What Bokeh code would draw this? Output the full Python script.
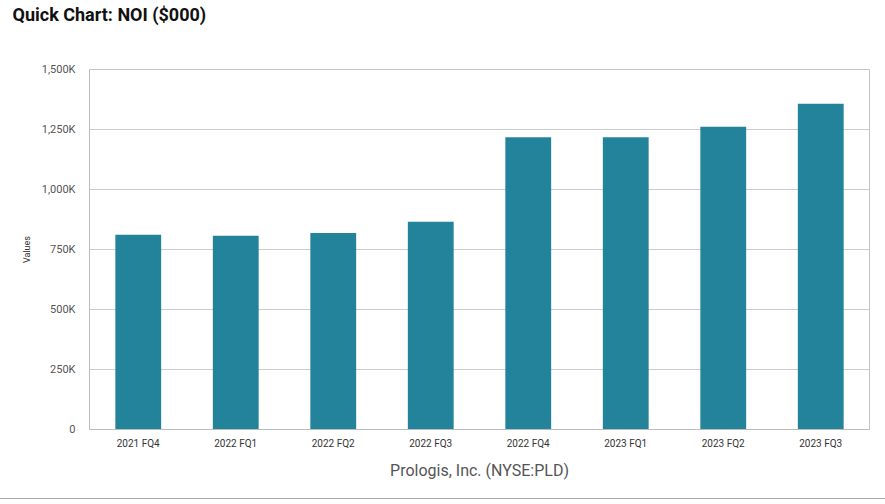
from bokeh.plotting import figure
from bokeh.models import FixedTicker, Title
from bokeh.embed import file_html
from bokeh.resources import INLINE

categories = ["2021 FQ4", "2022 FQ1", "2022 FQ2", "2022 FQ3",
              "2022 FQ4", "2023 FQ1", "2023 FQ2", "2023 FQ3"]
noi = [811000, 807000, 819000, 866000, 1218000, 1218000, 1261000, 1357000]
y_ticks = [0, 250000, 500000, 750000, 1000000, 1250000, 1500000]
y_tick_labels = ["0", "250K", "500K", "750K", "1,000K", "1,250K", "1,500K"]

p = figure(x_range=categories, y_range=(0, 1500000), width=885, height=499,
           output_backend="svg", toolbar_location=None,
           min_border_left=89, min_border_right=16, min_border_top=20, min_border_bottom=70)

p.vbar(x=categories, top=noi, width=0.47, color="#23839B", line_color=None)

p.title = None
spacer = Title(text=" ", text_font_size="37px", standoff=0)
main_title = Title(text="Quick Chart: NOI ($000)", text_font="Roboto", text_font_size="18px",
                   text_font_style="bold", text_color="#111111", offset=-77, standoff=3)
p.add_layout(spacer, "above")
p.add_layout(main_title, "above")

p.add_layout(Title(text="Prologis, Inc. (NYSE:PLD)", align="center", offset=-31,
                   text_font="Roboto", text_font_size="16px", text_font_style="normal",
                   text_color="#555555", standoff=15), "below")

p.x_range.range_padding = 0
p.outline_line_color = "#c4c4c4"
p.xgrid.grid_line_color = None
p.ygrid.grid_line_color = "#cccccc"

p.yaxis.ticker = FixedTicker(ticks=y_ticks)
p.yaxis.major_label_overrides = {t: l for t, l in zip(y_ticks, y_tick_labels)}
p.yaxis.axis_label = "Values"
p.yaxis.axis_label_text_font = "Roboto"
p.yaxis.axis_label_text_font_size = "9px"
p.yaxis.axis_label_text_font_style = "normal"
p.yaxis.axis_label_text_color = "#333333"
p.yaxis.axis_label_standoff = 7

for ax in (p.xaxis, p.yaxis):
    ax.axis_line_color = "#bbbbbb"
    ax.major_tick_line_color = None
    ax.minor_tick_line_color = None
    ax.major_label_text_font = "Roboto"
    ax.major_label_text_color = "#333333"
p.xaxis.major_label_text_font_size = "10px"
p.yaxis.major_label_text_font_size = "11px"
p.yaxis.major_label_text_color = "#555555"
p.yaxis.major_label_standoff = 8
p.xaxis.major_label_standoff = 2

p.styles = {"border-bottom": "1px solid #aaaaaa"}

open("out.html", "w").write(file_html(p, INLINE))
